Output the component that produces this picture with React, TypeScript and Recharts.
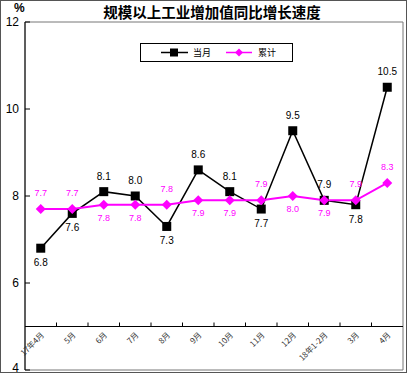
import React from 'react';
import { ComposedChart, Line, XAxis, YAxis, ReferenceLine, ReferenceArea, LabelList } from 'recharts';

const months = ['17年4月', '5月', '6月', '7月', '8月', '9月', '10月', '11月', '12月', '18年1-2月', '3月', '4月'];
const monthly = [6.8, 7.6, 8.1, 8.0, 7.3, 8.6, 8.1, 7.7, 9.5, 7.9, 7.8, 10.5];
const cumulative = [7.7, 7.7, 7.8, 7.8, 7.8, 7.9, 7.9, 7.9, 8.0, 7.9, 7.9, 8.3];
// label placement: true = above the point
const monthlyAbove = [false, false, true, true, false, true, true, false, true, true, false, true];
const cumulativeAbove = [true, true, false, false, true, false, false, true, false, false, true, true];
const yTicks = [4, 6, 8, 10, 12];
const seriesNames = ['当月', '累计'];

const data = months.map((m, i) => ({ month: m, monthly: monthly[i], cumulative: cumulative[i] }));

const W = 408;
const H = 374;
const PLOT_TOP = 22;
const PLOT_BOTTOM = 370;
const AXIS_Y = PLOT_BOTTOM - (PLOT_BOTTOM - PLOT_TOP) / 8; // category axis crosses at 5
const BAND = 378 / 12;
const CJK = '"Noto Sans CJK SC", sans-serif';
const LAT = '"Liberation Sans", Arial, sans-serif';
const PINK = '#FF00FF';

const XTick = (props: any) => {
  const { x, payload, index } = props;
  const y = AXIS_Y;
  return (
    <g>
      {index < months.length - 1 && (
        <line x1={x + BAND / 2} x2={x + BAND / 2} y1={y} y2={y - 4} stroke="#000" />
      )}
      <text
        x={x + 4}
        y={y + 9}
        textAnchor="end"
        fontSize={8}
        fontFamily={CJK}
        fill="#333"
        transform={`rotate(-45, ${x + 4}, ${y + 9})`}
      >
        {payload.value}
      </text>
    </g>
  );
};

const YTick = (props: any) => {
  const { y, payload } = props;
  return (
    <g>
      <line x1={25} x2={30} y1={y} y2={y} stroke="#000" />
      <text x={19} y={Math.min(y + 4, 372)} textAnchor="end" fontSize={12} fontFamily={LAT} fill="#000">
        {payload.value}
      </text>
    </g>
  );
};

const makeLabel = (above: boolean[], color: string, size: number, up: number, down: number) => (props: any) => {
  const { x, y, value, index } = props;
  const isUp = above[index];
  return (
    <text
      x={x}
      y={isUp ? y - up : y + down}
      textAnchor="middle"
      fontSize={size}
      fontFamily={LAT}
      fill={color}
    >
      {Number(value).toFixed(1)}
    </text>
  );
};

const Square = (props: any) => {
  const { cx, cy } = props;
  return <rect x={cx - 4.5} y={cy - 4.5} width={9} height={9} fill="#000" />;
};

const Diamond = (props: any) => {
  const { cx, cy } = props;
  return <path d={`M${cx},${cy - 5}L${cx + 5},${cy}L${cx},${cy + 5}L${cx - 5},${cy}Z`} fill={PINK} />;
};

export default function App() {
  return (
    <div
      style={{
        position: 'absolute',
        left: 0,
        top: 0,
        width: W - 1,
        height: H - 1,
        boxSizing: 'border-box',
        border: '1px solid #555',
        background: '#fff',
      }}
    >
      <div style={{ position: 'absolute', left: -1, top: -1 }}>
        <ComposedChart width={W} height={H} data={data} margin={{ top: PLOT_TOP, right: 5, bottom: H - PLOT_BOTTOM - 4, left: 0 }}>
          <ReferenceArea y1={4} y2={12} fill="none" stroke="#777" strokeWidth={1} ifOverflow="visible" />
          <XAxis
            dataKey="month"
            scale="band"
            height={4}
            axisLine={false}
            tickLine={false}
            tick={<XTick />}
            interval={0}
          />
          <YAxis
            width={25}
            domain={[4, 12]}
            ticks={yTicks}
            tick={<YTick />}
            tickLine={false}
            axisLine={{ stroke: '#000' }}
            allowDataOverflow
            interval={0}
          />
          <ReferenceLine y={5} stroke="#000" strokeWidth={1} />
          <Line
            dataKey="monthly"
            name={seriesNames[0]}
            stroke="#000"
            strokeWidth={1.5}
            dot={<Square />}
            isAnimationActive={false}
          >
            <LabelList dataKey="monthly" content={makeLabel(monthlyAbove, '#000', 10, 12, 18)} />
          </Line>
          <Line
            dataKey="cumulative"
            name={seriesNames[1]}
            stroke={PINK}
            strokeWidth={2}
            dot={<Diamond />}
            isAnimationActive={false}
          >
            <LabelList dataKey="cumulative" content={makeLabel(cumulativeAbove, PINK, 9, 13, 16)} />
          </Line>
        </ComposedChart>
      </div>
      <div
        style={{
          position: 'absolute',
          left: 98,
          width: 226,
          top: 1,
          textAlign: 'center',
          fontFamily: CJK,
          fontWeight: 'bold',
          fontSize: 14.5,
          lineHeight: '20px',
          color: '#000',
          whiteSpace: 'nowrap',
        }}
      >
        规模以上工业增加值同比增长速度
      </div>
      <div style={{ position: 'absolute', left: 13, top: 0, fontFamily: LAT, fontSize: 12, fontWeight: 'bold' }}>%</div>
      <div
        style={{
          position: 'absolute',
          left: 139,
          top: 42,
          width: 153,
          height: 19,
          boxSizing: 'border-box',
          border: '1px solid #000',
          background: '#fff',
        }}
      >
        <svg width={151} height={17} style={{ position: 'absolute', left: 0, top: 0 }}>
          <line x1={20} x2={47} y1={8.5} y2={8.5} stroke="#000" strokeWidth={1.5} />
          <rect x={29} y={4.5} width={8} height={8} fill="#000" />
          <text x={52} y={12} fontSize={9} fontFamily={CJK} fill="#000">{seriesNames[0]}</text>
          <line x1={85} x2={111} y1={8.5} y2={8.5} stroke={PINK} strokeWidth={1.5} />
          <path d="M98,4.5L102,8.5L98,12.5L94,8.5Z" fill={PINK} />
          <text x={117} y={12} fontSize={9} fontFamily={CJK} fill="#000">{seriesNames[1]}</text>
        </svg>
      </div>
    </div>
  );
}
